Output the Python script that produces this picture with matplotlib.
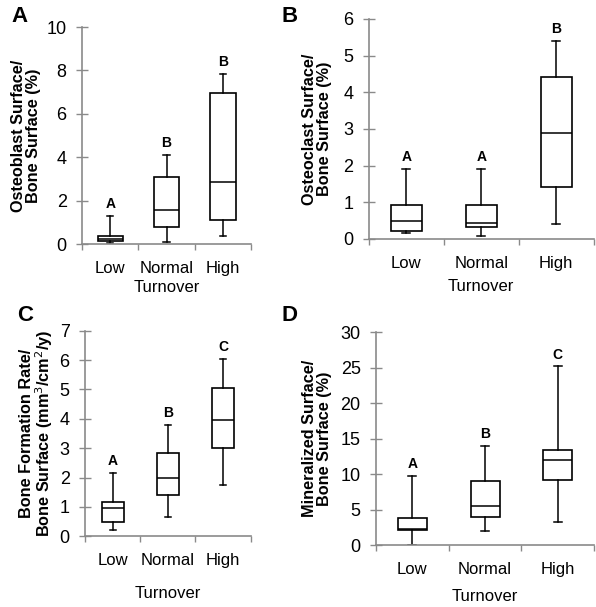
import numpy as np
import matplotlib
matplotlib.use('Agg')
import matplotlib.pyplot as plt

plt.rcParams['font.family'] = ['Liberation Sans', 'DejaVu Sans']

groups = ['Low', 'Normal', 'High']

# each row: [whisker low, q1, median, q3, whisker high]
osteoblast = [[0.05, 0.15, 0.25, 0.35, 1.3],
              [0.1, 0.8, 1.55, 3.1, 4.1],
              [0.35, 1.1, 2.85, 6.95, 7.85]]
osteoclast = [[0.15, 0.23, 0.5, 0.93, 1.9],
              [0.08, 0.32, 0.43, 0.93, 1.9],
              [0.42, 1.42, 2.9, 4.42, 5.4]]
bfr = [[0.2, 0.5, 0.97, 1.18, 2.15],
       [0.65, 1.4, 1.97, 2.85, 3.8],
       [1.75, 3.02, 3.95, 5.05, 6.05]]
mineralized = [[0.0, 2.1, 2.2, 3.8, 9.8],
               [2.0, 4.0, 5.5, 9.0, 14.0],
               [3.2, 9.2, 12.0, 13.4, 25.2]]

letters_a = ['A', 'B', 'B']
letters_b = ['A', 'A', 'B']
letters_c = ['A', 'B', 'C']
letters_d = ['A', 'B', 'C']

panels = [
    dict(tag='A', data=osteoblast, let=letters_a, ylim=10, step=2,
         ylabel='Osteoblast Surface/\nBone Surface (%)',
         rect=[0.1376, 0.598, 0.2836, 0.3575], ypad=4, xpad=3, w=0.45),
    dict(tag='B', data=osteoclast, let=letters_b, ylim=6, step=1,
         ylabel='Osteoclast Surface/\nBone Surface (%)',
         rect=[0.6186, 0.6063, 0.3775, 0.3624], ypad=8, xpad=6, w=0.41),
    dict(tag='C', data=bfr, let=letters_c, ylim=7, step=1,
         ylabel='Bone Formation Rate/\nBone Surface (mm$^3$/cm$^2$/y)',
         rect=[0.1426, 0.1165, 0.278, 0.3387], ypad=3, xpad=13, w=0.4),
    dict(tag='D', data=mineralized, let=letters_d, ylim=30, step=5,
         ylabel='Mineralized Surface/\nBone Surface (%)',
         rect=[0.6309, 0.1021, 0.366, 0.3504], ypad=6, xpad=9, w=0.4),
]

fig = plt.figure(figsize=(5.96, 6.07), dpi=100)
spine_col = '#8a8a8a'

for p in panels:
    ax = fig.add_axes(p['rect'])
    stats = []
    for name, row in zip(groups, p['data']):
        stats.append(dict(label=name, whislo=row[0], q1=row[1], med=row[2],
                          q3=row[3], whishi=row[4], fliers=[]))
    ax.bxp(stats, positions=[0, 1, 2], widths=p['w'], capwidths=0.11,
           patch_artist=True, showfliers=False,
           boxprops=dict(facecolor='white', edgecolor='black', linewidth=1.2),
           medianprops=dict(color='black', linewidth=1.1),
           whiskerprops=dict(color='black', linewidth=1.1),
           capprops=dict(color='black', linewidth=1.1))
    for i, row in enumerate(p['data']):
        ax.annotate(p['let'][i], (i, row[4]), xytext=(0, 3.5),
                    textcoords='offset points', ha='center', va='bottom',
                    fontsize=10, fontweight='bold')

    ax.set_xlim(-0.5, 2.5)
    ax.set_ylim(0, p['ylim'])
    ax.set_yticks(np.arange(0, p['ylim'] + 0.01, p['step']))
    ax.set_xticks([0, 1, 2])
    ax.set_xticklabels(groups)
    ax.set_xticks([-0.5, 0.5, 1.5, 2.5], minor=True)
    for s in ['top', 'right']:
        ax.spines[s].set_visible(False)
    for s in ['left', 'bottom']:
        ax.spines[s].set_color(spine_col)
        ax.spines[s].set_linewidth(1.2)
    ax.tick_params(axis='y', direction='inout', length=8, width=1,
                   color=spine_col, labelsize=13, pad=7)
    ax.tick_params(axis='x', which='major', length=0, labelsize=12, pad=12)
    ax.tick_params(axis='x', which='minor', direction='out', length=4,
                   width=1, color=spine_col)
    ax.set_ylabel(p['ylabel'], fontsize=11.7, fontweight='bold',
                  labelpad=p['ypad'], linespacing=1.0)
    ax.set_xlabel('Turnover', fontsize=12, labelpad=p['xpad'])

fig.text(0.02, 0.972, 'A', fontsize=16, fontweight='bold', va='center')
fig.text(0.473, 0.972, 'B', fontsize=16, fontweight='bold', va='center')
fig.text(0.028, 0.481, 'C', fontsize=16, fontweight='bold', va='center')
fig.text(0.473, 0.481, 'D', fontsize=16, fontweight='bold', va='center')

fig.savefig('out.png', dpi=100)
